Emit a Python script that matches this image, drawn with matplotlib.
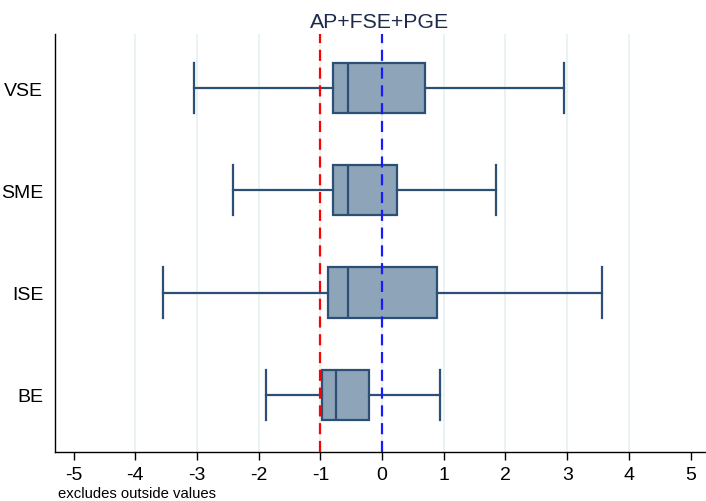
import matplotlib
matplotlib.use('Agg')
import matplotlib.pyplot as plt

plt.rcParams['font.family'] = ['Liberation Sans', 'DejaVu Sans']

groups = ['BE', 'ISE', 'SME', 'VSE']
whis_lo = [-1.88, -3.55, -2.41, -3.05]
q1 = [-0.97, -0.88, -0.79, -0.79]
median = [-0.75, -0.55, -0.56, -0.56]
q3 = [-0.21, 0.89, 0.24, 0.70]
whis_hi = [0.94, 3.57, 1.85, 2.95]
ref_lines = [-1, 0]
xticks = [-5, -4, -3, -2, -1, 0, 1, 2, 3, 4, 5]

edge = '#2b4f75'
fill = '#8da4b9'

fig = plt.figure(figsize=(7.06, 5.02), dpi=100)
ax = fig.add_axes([0.0772, 0.0976, 0.921, 0.833])

stats = []
for i, g in enumerate(groups):
    stats.append({'label': g, 'whislo': whis_lo[i], 'q1': q1[i], 'med': median[i],
                  'q3': q3[i], 'whishi': whis_hi[i], 'fliers': []})

# gridlines (not at the limits)
for x in xticks[1:-1]:
    ax.axvline(x, color='#e8f0f2', lw=1.2, zorder=0)

ax.bxp(stats, positions=range(1, len(groups) + 1), vert=False, widths=0.49,
       patch_artist=True, showfliers=False,
       boxprops=dict(facecolor=fill, edgecolor=edge, lw=1.6),
       medianprops=dict(color=edge, lw=1.6),
       whiskerprops=dict(color=edge, lw=1.6),
       capprops=dict(color=edge, lw=1.6), capwidths=0.49,
       zorder=2)

ax.axvline(ref_lines[0], color='#ff0000', ls=(0, (5, 3)), lw=1.6, zorder=3)
ax.axvline(ref_lines[1], color='#1a1aff', ls=(0, (5, 3)), lw=1.6, zorder=3)

ax.set_xlim(-5.31, 5.23)
ax.set_ylim(0.44, 4.53)
ax.set_xticks(xticks)
ax.set_xticklabels([str(x) for x in xticks], fontsize=14)
ax.set_yticks(range(1, len(groups) + 1))
ax.set_yticklabels(groups, fontsize=14)
ax.tick_params(axis='y', length=0, pad=8)
ax.tick_params(axis='x', length=6, width=1, pad=4)

for s in ['top', 'right']:
    ax.spines[s].set_visible(False)
ax.spines['left'].set_linewidth(1)
ax.spines['bottom'].set_linewidth(1)

ax.set_title('AP+FSE+PGE', fontsize=15.3, color='#1e2a4a', pad=5)
fig.text(0.082, 0.008, 'excludes outside values', fontsize=10.7)

fig.savefig('out.png', dpi=100)
